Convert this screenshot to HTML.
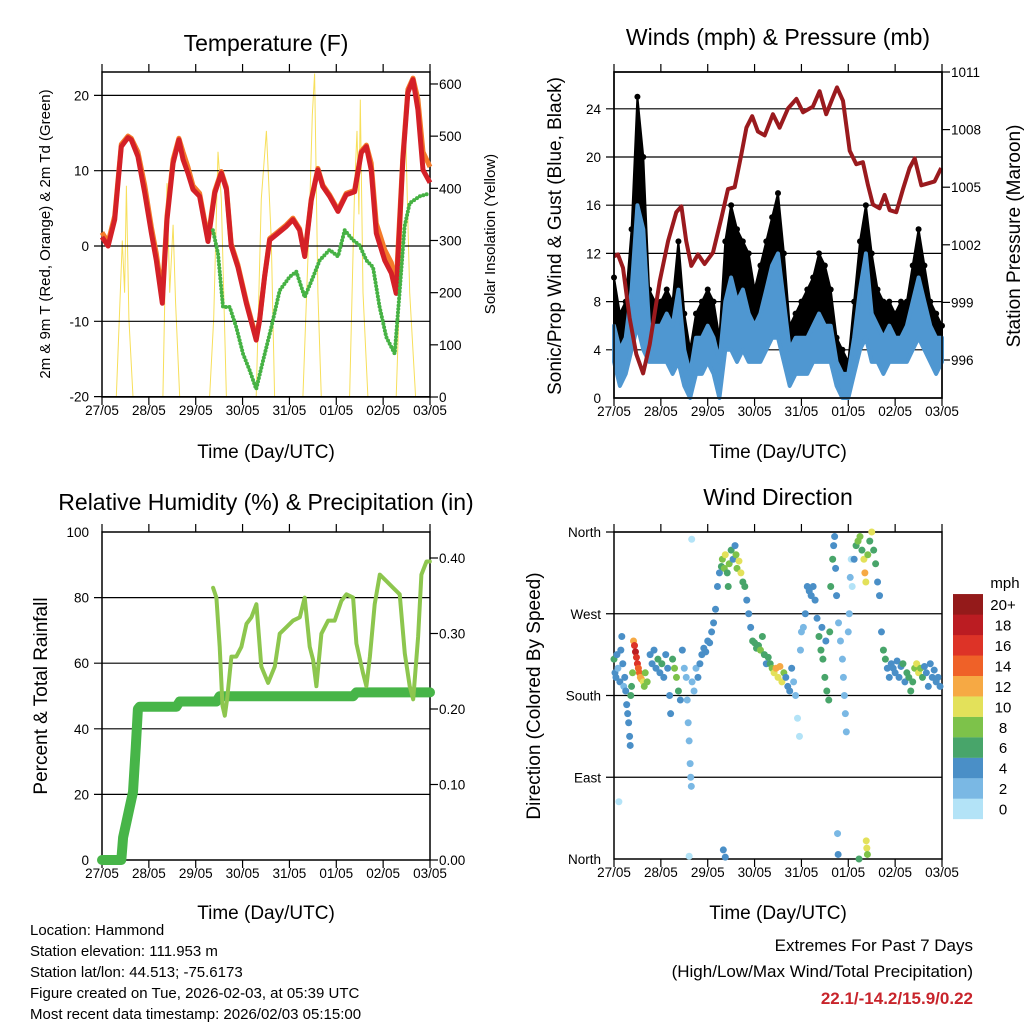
<!DOCTYPE html>
<html><head><meta charset="utf-8">
<style>
html,body{margin:0;padding:0;background:#fff;}
svg{display:block;font-family:"Liberation Sans",Arial,sans-serif;}
</style></head>
<body>
<svg id="chart" width="1024" height="1024" viewBox="0 0 1024 1024">
<rect x="0" y="0" width="1024" height="1024" fill="#fff"/>
<g id="layer"></g>
<text x="266" y="51" font-size="23" text-anchor="middle">Temperature (F)</text>
<text x="778" y="45" font-size="23" text-anchor="middle">Winds (mph) &amp; Pressure (mb)</text>
<text x="266" y="510" font-size="23" text-anchor="middle">Relative Humidity (%) &amp; Precipitation (in)</text>
<text x="778" y="505" font-size="23" text-anchor="middle">Wind Direction</text>
<text x="266" y="458" font-size="19" text-anchor="middle">Time (Day/UTC)</text>
<text x="778" y="458" font-size="19" text-anchor="middle">Time (Day/UTC)</text>
<text x="266" y="919" font-size="19" text-anchor="middle">Time (Day/UTC)</text>
<text x="778" y="919" font-size="19" text-anchor="middle">Time (Day/UTC)</text>
<text transform="translate(50,234) rotate(-90)" font-size="15" text-anchor="middle">2m &amp; 9m T (Red, Orange) &amp; 2m Td (Green)</text>
<text transform="translate(495,234) rotate(-90)" font-size="15" text-anchor="middle">Solar Insolation (Yellow)</text>
<text transform="translate(561,236) rotate(-90)" font-size="19" text-anchor="middle">Sonic/Prop Wind &amp; Gust (Blue, Black)</text>
<text transform="translate(1020,236) rotate(-90)" font-size="19" text-anchor="middle">Station Pressure (Maroon)</text>
<text transform="translate(47,696) rotate(-90)" font-size="19" text-anchor="middle">Percent &amp; Total Rainfall</text>
<text transform="translate(540,696) rotate(-90)" font-size="19" text-anchor="middle">Direction (Colored By Speed)</text>
<g font-size="15">
<text x="30" y="935">Location: Hammond</text>
<text x="30" y="956">Station elevation: 111.953 m</text>
<text x="30" y="977">Station lat/lon: 44.513; -75.6173</text>
<text x="30" y="998">Figure created on Tue, 2026-02-03, at 05:39 UTC</text>
<text x="30" y="1019">Most recent data timestamp: 2026/02/03 05:15:00</text>
</g>
<text x="973" y="951" font-size="17" text-anchor="end">Extremes For Past 7 Days</text>
<text x="973" y="977" font-size="17" text-anchor="end">(High/Low/Max Wind/Total Precipitation)</text>
<text x="973" y="1004" font-size="17" font-weight="bold" fill="#c8242b" text-anchor="end">22.1/-14.2/15.9/0.22</text>
<text x="1005" y="588" font-size="15" text-anchor="middle">mph</text>
</svg>
<script>
// ---------- data ----------
const dayLabels = ["27/05","28/05","29/05","30/05","31/05","01/05","02/05","03/05"];
const tempTicks = [20,10,0,-10,-20];
const solarTicks = [600,500,400,300,200,100,0];
const speedTicks = [0,4,8,12,16,20,24];
const pressTicks = [996,999,1002,1005,1008,1011];
const rhTicks = [0,20,40,60,80,100];
const precipTicks = ["0.00","0.10","0.20","0.30","0.40"];
const dirTicks = [0,90,180,270,360];
const dirLabels = ["North","East","South","West","North"];
const speedBins = ["0","2","4","6","8","10","12","14","16","18","20+"];
const speedColors = ["#b3e3f7","#7ab8e4","#4a8fc7","#48a56a","#7dc24a","#e3e15a","#f6a944","#ef6128","#dd3327","#bb1c22","#941a1a"];

const tempHours = [0,3.1,6.5,9.9,13.3,15.0,18.4,21.9,25.3,27.8,30.9,33.3,36.4,39.4,41.5,44.0,46.6,50.0,54.3,57.7,61.1,63.7,66.2,69.6,73.9,79.0,80.7,83.3,85.9,89.3,94.4,97.8,101.2,103.8,107.2,110.6,113.1,116.6,120.9,125.1,129.4,132.8,135.4,137.9,140.5,144.8,148.2,150.7,154.1,156.7,159.3,161.8,164.4,168];
const temp2m = [1.2,0,3.5,13.2,14.4,14.1,11.9,7,1.7,-1.9,-7.6,3.5,11,14.1,11.5,9.7,7.5,6.6,0.6,7,9.7,7.5,0,-2.8,-7.6,-12.5,-9.9,-4.1,0.8,1.5,2.6,3.5,2.1,-1.4,6.1,10.1,7.9,6.6,4.6,6.8,7.2,12.4,13.2,10.1,1.7,-1.9,-3.6,-6.3,11.5,20.4,22.1,18.1,10.1,8.4];
const temp9m = [1.8,0.5,4,13.5,14.6,14.3,12.5,8,2.5,-1,-6.5,4,11.5,14.3,12.5,10.5,8,7,1,7.3,9.9,7.8,0.3,-2.5,-7.3,-12.2,-9.7,-4,1,1.7,2.8,3.7,2.3,-1.2,6.3,10.3,8.1,6.8,4.8,7,7.4,12.6,13.4,11,3,-0.5,-2.2,-5,12,20.8,22.3,19.5,12.5,10.5];
const dewHours = [56.8,59.4,62.0,65.4,68.8,72.2,75.6,79.0,82.5,86.7,91.0,96.1,99.5,103.8,108.1,111.5,116.6,120.9,124.3,128.5,131.9,135.4,138.8,142.2,145.6,149.9,152.4,155.0,157.6,162.7,168];
const dewPoint = [2.1,-1,-8.1,-8.1,-10.8,-14.3,-16.5,-19,-15.2,-10.8,-5.9,-4.1,-3.4,-6.8,-4.1,-1.9,-0.5,-1.4,2.1,0.8,0.1,-1.9,-2.8,-8.1,-12.1,-14.3,-6.3,2.6,5.7,6.6,7];
const solarHours = [7.3,10.4,11.6,12.5,13.8,15.9, 31.2,33.3,34.7,36.4,37.7,39.8, 55.1,57.2,59.4,61.1,63.7, 79.0,81.6,84.2,86.7,88.4, 102.9,106.3,107.7,108.9,110.6,112.3, 126.8,129.4,130.6,131.6,132.3,133.7,136.2, 150.7,153.3,155.5,157.6,160.6];
const solarValues = [0,300,200,405,150,0, 0,410,200,330,180,0, 0,150,470,380,0, 0,380,510,300,0, 0,350,540,620,200,0, 0,400,510,350,570,200,0, 0,300,510,200,0];

const windHours = [0,3,6,9,12,15,18,21,24,27,30,33,36,39,42,45,48,51,54,57,60,63,66,69,72,75,78,81,84,87,90,93,96,99,102,105,108,111,114,117,120,123,126,129,132,135,138,141,144,147,150,153,156,159,162,165,168];
const windLow  = [3,1,2,4,6,4,3,3,3,3,2,3,1,0,2,2,3,2,0,4,4,3,4,3,3,3,4,5,5,3,1,2,2,2,3,3,3,3,1,0,0,2,4,5,3,3,2,3,3,3,3,4,5,4,3,2,3];
const windHigh = [6,4,5,9,16,14,6,6,6,7,6,9,4,2,5,5,6,5,3,8,10,8,9,7,6,7,9,11,12,8,4,5,5,5,6,7,6,6,3,2,2,5,9,12,7,6,5,6,5,5,6,8,10,8,6,5,5];
const gustHigh = [10,7,8,14,25,20,9,8,8,9,8,13,7,4,7,8,9,8,5,13,16,14,13,12,9,11,13,15,17,12,6,7,8,9,10,12,11,9,5,4,3,8,13,16,12,9,8,8,7,8,8,11,14,11,8,7,6];
const pressHours = [0,2,4.6,8,11.4,14.9,18.3,23.4,27.7,31.9,34.5,37,39.6,43,46.4,50.7,55,58.4,61.8,65.2,67.8,70.8,73.7,77.2,81.4,84.8,89.1,93.4,96.8,101.9,105.3,108.7,111.8,114.2,117.3,120.7,124.1,127.5,130.1,132.6,136,138.6,141.2,144.6,148,151.4,154,157.4,160.8,164.2,167.6];
const pressure = [1001.4,1001.5,1000.8,998.2,996.3,995.3,996.8,1000.1,1002.2,1003.7,1004,1002.2,1000.9,1001.5,1001,1001.6,1003.4,1004.9,1005,1006.7,1008.1,1008.7,1007.9,1007.7,1008.8,1008.1,1009.1,1009.6,1008.9,1009.2,1010,1008.8,1009.6,1010.2,1009.5,1006.9,1006.2,1006.3,1005.1,1004.1,1003.9,1004.6,1003.8,1003.7,1004.9,1006,1006.5,1005.1,1005.2,1005.3,1006];

const rhHours = [56.9,58.6,60.3,61.7,62.9,64.1,66.3,68.8,71.4,74.0,76.5,79.1,81.6,85.1,88.5,91.0,94.5,97.9,101.3,103.8,106.4,108.1,109.8,112.4,115.8,119.2,122.6,125.2,128.6,130.3,133.7,135.4,137.2,139.7,142.3,145.7,149.1,152.5,155.1,157.6,159.4,161.9,163.6,166.2,167.9];
const rhValues = [83,80,65,47,44,49,62,62,65,72,74,78,59,54,59,69,71,73,74,80,65,61,53,69,73,73,79,81,80,66,57,53,62,78,87,85,83,81,63,53,49,68,87,91,91];
const precipHours = [0,9.9,10.8,12.5,14.2,15.9,17.3,18.4,19.3,38.1,39.8,58.6,60.3,128.6,130.3,168];
const precipValues = [0,0,0.03,0.05,0.07,0.09,0.15,0.20,0.203,0.203,0.21,0.21,0.217,0.217,0.222,0.222];

const dirHours = [0,0.5,1,1.5,2,2.5,3,3.5,4,4.5,5,5.5,6,6.5,7,7.5,8,8.3,8.6,9,9.5,
10,10.5,11,11.5,12,12.5,13,13.5,14,15,15.5,16,17,
18.5,19.5,20.5,21.5,22.5,23.5,24.5,25.5,26.5,27.5,28.5,29,30,31,32,33,34,35,36,
37,37.5,38,38.5,39,39.3,39.6,39.8,40,41,42,43,38.5,
44,45,46,47,48,49,50,51,52,53,54,55,56,57,
55.5,56.5,57,58,58.5,59,60,61,62,62.5,63,64,65,66,67,68,69,70,
71,72,73,74,75,76,77,78,79,80,81,
82,83,84,85,86,87,
88,89,90,91,92,93,94,95,
95.5,96,97,98,99,100,101,102,103,104,
105,106,107,108,109,110,106.5,108.5,110.5,
111,112,112.5,113,113.5,114,114.5,114.8,
115,116,117,117.5,118,118.5,119,120,120.5,121,121.5,122,
123,124,125,125.5,126,127,128,128.5,129,129.2,129.5,129.8,130,131,132,133,134,135,136,137,
138,139,140,141,142,143,144,145,146,147,148,149,150,151,152,153,154,155,156,157,158,159,160,161,162,163,164,165,166,167];
const dirDegrees = [220,205,200,225,210,63,195,230,245,215,190,200,185,170,160,150,135,125,180,190,205,
240,235,228,222,215,210,205,200,198,195,190,205,195,
225,215,230,210,220,205,215,200,225,210,180,160,220,210,200,185,175,230,210,
200,175,150,130,105,90,80,352,195,185,210,200,3,
215,225,232,228,240,238,250,260,275,300,315,322,10,2,
330,320,335,315,300,325,340,330,345,335,320,328,315,305,300,285,270,255,
240,238,232,235,230,245,225,215,222,215,210,
205,210,200,212,195,205,
200,190,185,210,195,180,155,135,
230,250,255,270,300,295,290,300,285,265,
245,230,220,200,185,175,255,240,250,
300,330,345,355,320,290,28,5,
260,240,220,200,180,160,140,250,270,310,330,300,
330,345,350,0,355,340,330,315,305,20,12,5,335,350,360,340,325,305,290,250,
230,220,210,200,215,210,205,218,200,212,215,195,205,200,185,195,210,215,205,210,200,212,205,190,215,200,208,195,200,190];
const dirSpeeds = [6,4,4,4,2,0,4,4,4,4,2,4,4,4,4,4,4,4,6,6,8,
12,16,18,16,16,14,14,12,12,10,8,8,8,
4,4,4,4,6,4,6,4,4,4,4,4,6,8,8,6,4,4,2,
2,2,2,2,2,2,2,0,2,2,2,4,0,
4,4,4,4,4,4,4,4,4,4,4,6,4,4,
8,8,10,6,6,8,6,4,4,8,8,10,10,6,6,4,4,4,
6,6,6,6,8,6,6,4,6,6,8,
10,12,10,12,10,8,
4,4,4,4,2,2,0,0,
2,2,2,4,4,4,4,4,4,4,
6,6,6,6,6,6,4,4,6,
6,6,4,4,4,4,2,4,
2,2,2,2,2,2,2,2,2,2,0,0,
4,6,8,6,8,6,10,12,10,10,10,8,8,6,10,6,6,4,4,4,
6,6,4,4,4,4,4,4,4,4,6,4,6,6,6,6,8,10,10,8,6,4,4,4,4,4,4,4,4,4];

// ---------- helpers ----------
const NS = "http://www.w3.org/2000/svg";
const layer = document.getElementById("layer");
function mk(tag, attrs, parent){
  const e = document.createElementNS(NS, tag);
  for (const k in attrs) e.setAttribute(k, attrs[k]);
  (parent||layer).appendChild(e);
  return e;
}
function tx(x0,x1){ return h => x0 + h/168*(x1-x0); }
function pathFrom(xs, ys){ return xs.map((x,i)=>(i?"L":"M")+x.toFixed(1)+","+ys[i].toFixed(1)).join(""); }

function frame(p){
  const g = mk("g",{});
  
  
  p.grid.forEach(v=>{
    const l = mk("line",{x1:p.x0-8,x2:p.x1,y1:p.fy(v),y2:p.fy(v),stroke:"#000","stroke-width":1.2},g);
    
    
  });
  p.leftTicks.forEach((v,i)=>{
    const t = mk("text",{x:p.x0-13,y:p.fy(v)+5,"font-size":13.5,"text-anchor":"end"},g);
    t.textContent = p.leftLabels ? p.leftLabels[i] : v;
    
    
  });
  if (p.rightTicks){
    p.rightTicks.forEach((v,i)=>{
      const y = p.gy(+v);
      mk("line",{x1:p.x1,x2:p.x1+8,y1:y,y2:y,stroke:"#000","stroke-width":1.2},g);
      const t = mk("text",{x:p.x1+9,y:y+5,"font-size":13.5},g);
      t.textContent = v;
      
      
    });
  }
  const x = tx(p.x0,p.x1);
  dayLabels.forEach((d,i)=>{
    const xx = x(i*24);
    mk("line",{x1:xx,x2:xx,y1:p.yTop-8,y2:p.yTop,stroke:"#000","stroke-width":1.2},g);
    mk("line",{x1:xx,x2:xx,y1:p.yBot,y2:p.yBot+8,stroke:"#000","stroke-width":1.2},g);
    const t = mk("text",{x:xx,y:p.yBot+18,"font-size":13.5,"text-anchor":"middle"},g);
    t.textContent = d;
    
    
  });
  const r = mk("rect",{x:p.x0,y:p.yTop,width:p.x1-p.x0,height:p.yBot-p.yTop,fill:"none",stroke:"#000","stroke-width":1.5},g);
  
  
}

// ---------- temperature ----------
const TP = {name:"temperature",x0:102,x1:430,yTop:72,yBot:397,fy:v=>246-v*7.53,gy:v=>397-v*0.5217,grid:tempTicks,leftTicks:tempTicks,rightTicks:solarTicks};
const tX = tx(TP.x0,TP.x1);
let e;
e = mk("path",{d:pathFrom(solarHours.map(tX),solarValues.map(TP.gy)),fill:"none",stroke:"#f7df5a","stroke-width":1});


frame(TP);
e = mk("path",{d:pathFrom(tempHours.map(tX),temp9m.map(TP.fy)),fill:"none",stroke:"#f47b2a","stroke-width":5,"stroke-linejoin":"round"});


e = mk("path",{d:pathFrom(tempHours.map(tX),temp2m.map(TP.fy)),fill:"none",stroke:"#d42027","stroke-width":5,"stroke-linejoin":"round"});


e = mk("path",{d:pathFrom(dewHours.map(tX),dewPoint.map(TP.fy)),fill:"none",stroke:"#46b244","stroke-width":4,"stroke-linecap":"round","stroke-dasharray":"0 3.5"});



// ---------- winds ----------
const WP = {name:"winds",x0:614,x1:942,yTop:72,yBot:398,fy:v=>398-v*12.05,gy:p=>360-(p-996)*19.2,grid:speedTicks.slice(1),leftTicks:speedTicks,rightTicks:pressTicks};
const wX = tx(WP.x0,WP.x1);
frame(WP);
const wx = windHours.map(wX);
e = mk("path",{d:pathFrom(wx,gustHigh.map(WP.fy))+pathFrom(wx.slice().reverse(),windHigh.map(WP.fy).reverse()).replace("M","L")+"Z",fill:"#000",stroke:"#000","stroke-width":2,"stroke-linejoin":"round"});


windHours.forEach((h,i)=>{
  const c = mk("circle",{cx:wX(h),cy:WP.fy(gustHigh[i]),r:3,fill:"#000"});
  
  
});
e = mk("path",{d:pathFrom(wx,windHigh.map(WP.fy))+pathFrom(wx.slice().reverse(),windLow.map(WP.fy).reverse()).replace("M","L")+"Z",fill:"#4f97d1",stroke:"#4f97d1","stroke-width":4,"stroke-linejoin":"round"});


e = mk("path",{d:pathFrom(pressHours.map(wX),pressure.map(WP.gy)),fill:"none",stroke:"#9a1a1e","stroke-width":4,"stroke-linejoin":"round"});


e = mk("rect",{x:WP.x0,y:WP.yTop,width:328,height:326,fill:"none",stroke:"#000","stroke-width":1.5});



// ---------- humidity ----------
const RP = {name:"humidity",x0:102,x1:430,yTop:532,yBot:860,fy:v=>860-v*3.28,gy:v=>860-v*755,grid:[20,40,60,80],leftTicks:rhTicks,rightTicks:precipTicks};
const rX = tx(RP.x0,RP.x1);
frame(RP);
e = mk("path",{d:pathFrom(precipHours.map(rX),precipValues.map(RP.gy)),fill:"none",stroke:"#47b548","stroke-width":10,"stroke-linecap":"round","stroke-linejoin":"round"});


e = mk("path",{d:pathFrom(rhHours.map(rX),rhValues.map(RP.fy)),fill:"none",stroke:"#8dc64e","stroke-width":4,"stroke-linejoin":"round","stroke-linecap":"round"});



// ---------- wind direction ----------
const DP = {name:"direction",x0:614,x1:942,yTop:532,yBot:859,fy:d=>859-d*0.9083,grid:[90,180,270,360],leftTicks:dirTicks,leftLabels:dirLabels};
const dX = tx(DP.x0,DP.x1);
frame(DP);
dirHours.forEach((h,i)=>{
  const bin = Math.min(10, Math.floor(dirSpeeds[i]/2));
  const c = mk("circle",{cx:dX(h),cy:DP.fy(dirDegrees[i]),r:3.5,fill:speedColors[bin]});
  
  
});
speedBins.forEach((lab,i)=>{
  const y = 819 - (i+1)*20.45;
  const r = mk("rect",{x:953,y:y,width:30,height:20.6,fill:speedColors[i]});
  
  
  const t = mk("text",{x:1003,y:y+16,"font-size":15,"text-anchor":"middle"});
  t.textContent = lab;
  
  
});
</script>
</body></html>
